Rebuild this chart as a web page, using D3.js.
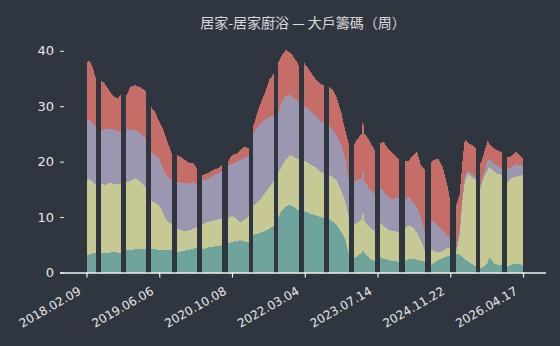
<!DOCTYPE html>
<html>
<head>
<meta charset="utf-8">
<script src="https://cdn.jsdelivr.net/npm/d3@7"></script>
<style>
  html, body { margin: 0; padding: 0; background: #2f3640; }
  svg { display: block; }
</style>
</head>
<body>
<svg id="chart" width="560" height="346"></svg>
<script>
// ---- Data (week index; null = no data) ----
const week = [
  0,3,6,9, 11,
  14,18,22,26,30,33, 35,
  38,42,47,52,57, 60,
  62,66,70,74,78,82, 84,
  87,91,95,99,103,106, 108,
  111,115,119,123,127,130, 133,
  136,140,144,148,152,156, 158,
  160,164,168,172,176,180, 182,
  184,188,192,196,200,204, 206,
  209,213,217,221,225,229, 231,
  233,237,241,245,249,253, 255,
  257,261,265,266,267,271,275,278, 280,
  282,286,290,294,298,301, 303,
  306,310,314,318,322,326, 328,
  331,335,339,343,347,350, 353,
  356,359,362,364,367,371,375, 377,
  379,382,386,388,392,396,400, 402,
  405,409,413,417,420
];
const teal = [
  3.1,3.3,3.5,3.6, null,
  3.5,3.6,3.6,3.7,3.6,3.6, null,
  4.0,4.0,4.2,4.2,4.3, null,
  4.3,4.2,4.1,4.1,4.0,4.0, null,
  3.7,3.8,4.0,4.1,4.3,4.4, null,
  4.2,4.4,4.6,4.7,4.8,4.9, null,
  5.2,5.5,5.7,5.8,5.6,5.5, null,
  6.8,7.0,7.2,7.5,7.9,8.4, null,
  9.8,11.2,12.0,12.2,11.8,11.2, null,
  11.1,10.8,10.5,10.3,10.0,9.8, null,
  9.7,9.2,8.5,7.4,6.0,2.8, null,
  2.5,3.0,3.6,4.2,3.6,2.8,2.2,1.9, null,
  2.8,2.5,2.3,2.1,2.0,1.9, null,
  2.0,2.4,2.5,2.3,2.1,1.9, null,
  1.3,1.8,2.3,2.6,2.9,3.1, null,
  3.4,3.2,2.8,2.4,2.0,1.5,1.0, null,
  0.8,1.0,1.8,2.8,1.6,1.4,1.3, null,
  1.0,1.4,1.6,1.5,1.3
];
const khaki = [
  13.6,13.5,12.7,12.3, null,
  12.5,12.2,12.6,12.3,12.3,12.4, null,
  12.2,12.5,12.8,12.2,11.0, null,
  8.6,8.4,8.0,6.4,5.2,4.8, null,
  4.2,3.8,3.5,3.5,3.6,3.8, null,
  4.4,4.6,4.6,4.7,4.8,4.8, null,
  4.6,4.7,4.1,3.2,3.9,4.8, null,
  5.2,5.6,6.2,6.9,7.5,8.1, null,
  8.0,8.0,8.4,9.0,9.0,9.2, null,
  9.1,9.0,8.8,8.6,8.2,8.0, null,
  7.9,8.0,8.1,7.4,6.8,6.4, null,
  6.0,6.0,6.0,7.3,5.9,5.6,5.6,5.4, null,
  6.3,5.9,5.5,5.4,5.4,5.4, null,
  5.8,6.1,5.7,4.9,3.5,2.1, null,
  2.9,2.0,1.3,1.4,1.5,1.5, null,
  0.5,3.4,10.7,14.0,15.8,15.7,15.6, null,
  14.4,16.0,16.8,16.3,16.6,16.4,16.3, null,
  15.4,15.6,15.7,15.9,16.3
];
const lavender = [
  10.5,10.8,10.6,10.3, null,
  9.7,10.1,9.8,9.8,9.6,9.5, null,
  9.8,9.3,8.7,8.7,9.0, null,
  8.9,8.7,8.5,8.0,8.1,7.9, null,
  8.4,8.6,8.7,8.4,8.4,7.5, null,
  8.0,7.8,8.0,8.2,8.3,8.6, null,
  9.4,9.4,10.2,11.3,11.2,10.6, null,
  13.0,13.4,13.6,13.2,12.6,11.8, null,
  10.8,11.6,11.6,10.8,10.6,10.4, null,
  9.8,9.8,9.6,9.3,9.2,9.0, null,
  9.0,8.6,8.0,8.2,7.8,6.6, null,
  7.9,7.8,7.4,8.0,7.2,7.0,6.8,6.7, null,
  6.4,6.2,5.8,5.7,6.0,6.3, null,
  5.0,5.1,4.5,4.6,4.2,3.0, null,
  5.2,5.2,4.7,3.6,2.4,1.1, null,
  0.7,1.2,1.1,1.0,0.6,0.6,0.6, null,
  0.6,0.8,1.6,1.5,1.4,1.4,1.2, null,
  2.2,2.0,2.3,2.0,1.5
];
const red = [
  10.8,10.6,10.2,8.8, null,
  9.0,8.1,6.8,6.0,5.9,6.5, null,
  5.8,7.7,8.1,8.3,8.5, null,
  8.1,7.7,6.6,7.3,6.2,4.8, null,
  4.9,4.6,4.1,3.8,3.4,3.2, null,
  0.9,1.0,1.0,1.0,1.0,1.1, null,
  0.8,1.6,1.4,1.8,2.0,1.5, null,
  1.2,2.6,3.8,5.0,6.8,7.6, null,
  9.2,8.4,8.2,7.6,7.4,6.6, null,
  8.0,7.3,6.9,6.6,6.6,7.0, null,
  6.9,7.2,6.8,6.0,5.0,7.0, null,
  6.6,7.4,8.0,8.8,8.4,8.8,8.2,7.8, null,
  7.8,9.0,8.8,8.4,7.5,6.7, null,
  7.2,6.6,8.4,10.0,9.4,11.5, null,
  10.4,11.4,12.1,11.2,9.2,7.2, null,
  7.7,6.2,5.9,6.6,5.0,5.2,5.2, null,
  3.8,3.4,3.6,2.6,2.8,2.8,2.9, null,
  2.2,2.0,2.2,1.7,1.4
];
const seriesKeys = ["teal", "khaki", "lavender", "red"];
const seriesColors = ["#6ea49c", "#c7c994", "#9b97b1", "#c56d66"];
const tickWeeks = [0, 70, 140, 210, 280, 350, 420];
const tickLabels = ["2018.02.09","2019.06.06","2020.10.08","2022.03.04","2023.07.14","2024.11.22","2026.04.17"];
const yTicks = [0, 10, 20, 30, 40];
const title = "居家-居家廚浴 — 大戶籌碼（周）";

// ---- Build ----
const rows = week.map((w, i) => ({
  week: w, teal: teal[i], khaki: khaki[i], lavender: lavender[i], red: red[i]
}));

const svg = d3.select("#chart");
const x = d3.scaleLinear().domain([0, 420]).range([86.5, 523]);
const y = d3.scaleLinear().domain([0, 40]).range([272.5, 50.8]);

const stack = d3.stack().keys(seriesKeys).value((d, k) => d[k] == null ? 0 : d[k]);
const layers = stack(rows);

const area = d3.area()
  .defined(d => d.data.teal != null)
  .x(d => x(d.data.week))
  .y0(d => y(d[0]))
  .y1(d => y(d[1]));

svg.append("g").selectAll("path")
  .data(layers)
  .join("path")
  .attr("d", area)
  .attr("fill", (d, i) => seriesColors[i])
  .attr("stroke", "none")
  .attr("shape-rendering", "crispEdges");

// Title
svg.append("text")
  .attr("x", 303).attr("y", 28)
  .attr("text-anchor", "middle")
  .attr("fill", "#d9d9d9")
  .attr("font-family", "'Noto Sans CJK TC', 'Noto Sans CJK SC', sans-serif")
  .attr("font-size", 14)
  .text(title);

// Y axis
const yAxis = d3.axisLeft(y).tickValues(yTicks).tickSize(4).tickPadding(6);
const gy = svg.append("g").attr("transform", "translate(64,0)").call(yAxis);
gy.select(".domain").remove();
gy.selectAll(".tick line").attr("stroke", "#e6e6e6");
gy.selectAll(".tick text").attr("fill", "#e6e6e6")
  .attr("font-family", "'DejaVu Sans', sans-serif").attr("font-size", 13);

// X axis
const xAxis = d3.axisBottom(x).tickValues(tickWeeks).tickFormat((d, i) => tickLabels[i]).tickSize(5).tickSizeOuter(0);
const gx = svg.append("g").attr("transform", "translate(0,272.5)").call(xAxis);
gx.select(".domain").attr("d", "M60,0.5H546").attr("stroke", "#f0f0f0").attr("stroke-width", 1.5);
gx.selectAll(".tick line").attr("stroke", "#f0f0f0").attr("stroke-width", 1.2);
gx.selectAll(".tick text")
  .attr("fill", "#e6e6e6")
  .attr("font-family", "'DejaVu Sans', sans-serif").attr("font-size", 12)
  .attr("text-anchor", "end")
  .attr("dy", null)
  .attr("y", 0)
  .attr("transform", "translate(-7,18) rotate(-30)")
  .attr("dominant-baseline", "middle");
</script>
</body>
</html>
